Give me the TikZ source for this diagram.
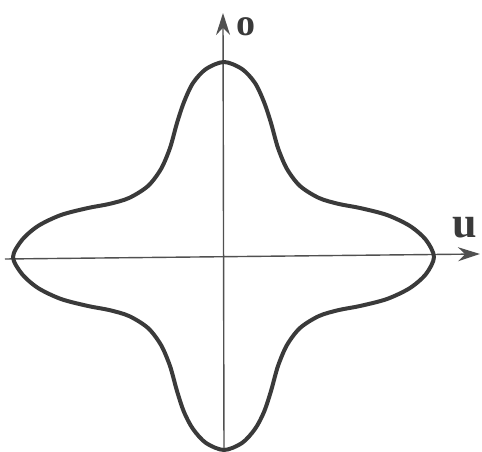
\documentclass[tikz,border=0pt]{standalone}
\usepackage{fontspec}
\setmainfont{Liberation Serif}
\usetikzlibrary{arrows.meta}
\definecolor{curvecol}{HTML}{3A3A3A}
\definecolor{axiscol}{HTML}{505050}
\begin{document}
\begin{tikzpicture}[x=1pt,y=1pt,
  axisline/.style={draw=axiscol,line width=1.4pt,-{Stealth[length=22pt,width=14pt]}},
  lobe/.style={draw=curvecol,line width=4pt,line join=round},
  lbl/.style={inner sep=0pt,text=curvecol,font=\bfseries}]
\useasboundingbox (-224,-195) rectangle (258,257);
\coordinate (O) at (0,0);
\coordinate (xs) at (-219,-2);
\coordinate (xe) at (256,3);
\coordinate (ys) at (0,-195);
\coordinate (ye) at (-1,244);
\draw[axisline] (xs) -- (xe);
\draw[axisline] (ys) -- (ye);
\draw[lobe] plot[smooth cycle] coordinates {
(0,195) (18,188) (31,174) (40,155) (47,134) (54,109) (63,88) (76,71) (95,59) (115,53) (136,49) (163,42) (186,31) (202,17) (210,0)
(202,-17) (186,-31) (163,-42) (136,-49) (115,-53) (95,-59) (76,-71) (63,-88) (54,-109) (47,-134) (40,-155) (31,-172) (18,-186) (0,-193)
(-18,-186) (-31,-172) (-40,-155) (-47,-134) (-54,-109) (-63,-88) (-76,-71) (-95,-59) (-115,-53) (-136,-49) (-163,-42) (-186,-31) (-202,-17) (-211,0)
(-202,17) (-186,31) (-163,42) (-136,49) (-115,53) (-95,59) (-76,71) (-63,88) (-54,109) (-47,134) (-40,155) (-31,174) (-18,188)};
\node[lbl,font=\bfseries\fontsize{38}{38}\selectfont] (olab) at (22,230) {o};
\node[lbl,font=\bfseries\fontsize{44}{44}\selectfont] (ulab) at (241,29) {u};
\end{tikzpicture}
\end{document}
